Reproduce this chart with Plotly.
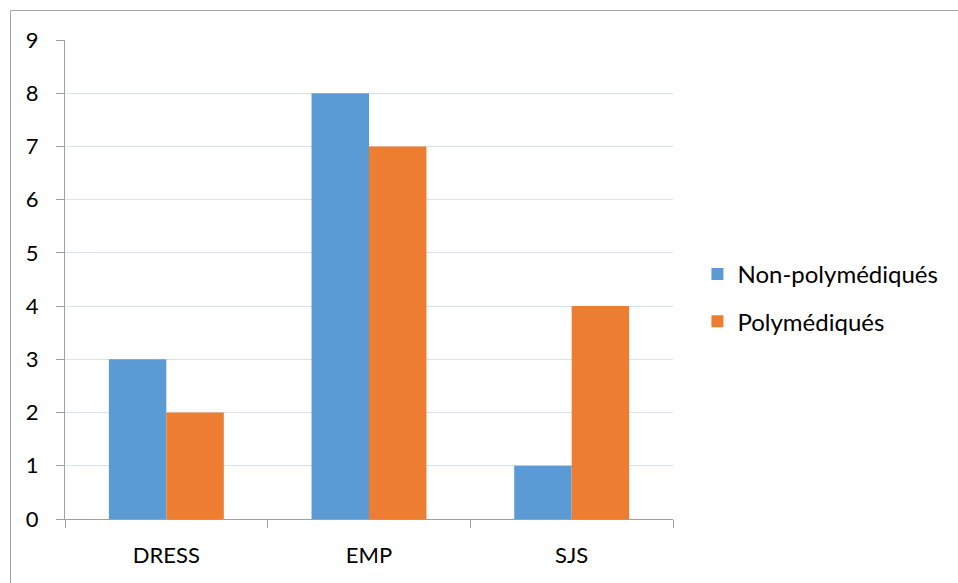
import plotly.graph_objects as go

# Cases per reaction type, split by polymedication status
categories = ["DRESS", "EMP", "SJS"]
non_poly = [3, 8, 1]
poly = [2, 7, 4]
series_names = ["Non-polymédiqués", "Polymédiqués"]
y_ticks = list(range(0, 10))

W, H = 958, 583
# plot area in pixels
x0, x1 = 65, 673
y_top, y_bot = 40, 519

font_family = "Lato, Carlito, 'Liberation Sans', sans-serif"
axis_grey = "#A0A0A0"

fig = go.Figure()
fig.add_trace(go.Bar(x=categories, y=non_poly, name=series_names[0],
                     marker=dict(color="#5B9BD5", line=dict(width=0)),
                     legendgroup="a"))
fig.add_trace(go.Bar(x=categories, y=poly, name=series_names[1],
                     marker=dict(color="#ED7D31", line=dict(width=0)),
                     legendgroup="b"))

fig.update_layout(
    width=W, height=H,
    margin=dict(l=0, r=0, t=0, b=0, autoexpand=False),
    paper_bgcolor="white", plot_bgcolor="white",
    barmode="group", bargap=0.433, bargroupgap=0,
    font=dict(family=font_family, color="#000000"),
    xaxis=dict(
        domain=[x0 / W, x1 / W], automargin=False,
        showline=True, linecolor=axis_grey, linewidth=1,
        ticks="outside", tickson="boundaries", ticklen=8,
        tickcolor=axis_grey, tickwidth=1,
        tickfont=dict(size=22), ticklabelstandoff=17,
        showgrid=False, zeroline=False,
    ),
    yaxis=dict(
        domain=[(H - y_bot) / H, (H - y_top) / H], automargin=False,
        range=[0, 9], tickvals=y_ticks,
        showline=True, linecolor=axis_grey, linewidth=1,
        ticks="outside", ticklen=8, tickcolor=axis_grey, tickwidth=1,
        tickfont=dict(size=22), ticklabelstandoff=13,
        showgrid=True, gridcolor="#D6E2F3", gridwidth=1,
        zeroline=False,
    ),
    legend=dict(
        x=0.728, y=0.489, xanchor="left", yanchor="middle",
        font=dict(size=24), traceorder="grouped", tracegroupgap=13,
        bgcolor="rgba(0,0,0,0)", itemwidth=30,
    ),
    shapes=[
        dict(type="line", xref="paper", yref="paper",
             x0=10.5 / W, x1=10.5 / W, y0=0, y1=(H - 10.5) / H,
             line=dict(color="#A6A6A6", width=1)),
        dict(type="line", xref="paper", yref="paper",
             x0=10.5 / W, x1=1, y0=(H - 10.5) / H, y1=(H - 10.5) / H,
             line=dict(color="#A6A6A6", width=1)),
    ],
)

fig.write_html("out.html")
